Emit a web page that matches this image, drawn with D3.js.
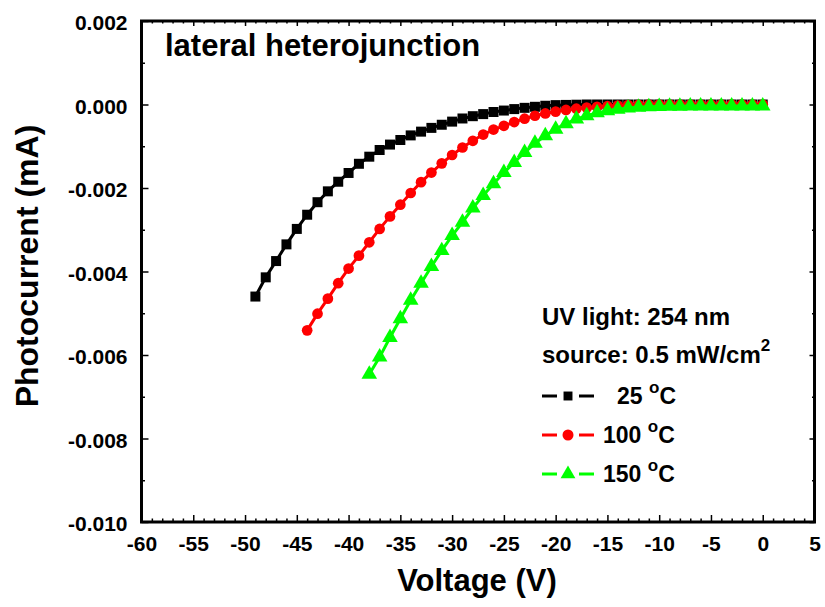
<!DOCTYPE html>
<html>
<head>
<meta charset="utf-8">
<script src="https://cdn.jsdelivr.net/npm/d3@7"></script>
<style>
  body { margin: 0; background: #fff; }
  text { font-family: "Liberation Sans", Arial, sans-serif; font-weight: bold; }
</style>
</head>
<body>
<div id="chart"></div>
<script>
// ** Data (current in mA) **
var volt25 = d3.range(-49, 1);
var cur25 = [-0.00460, -0.00414, -0.00375, -0.00335, -0.00298, -0.00264, -0.00234, -0.00208, -0.00185, -0.00164,
  -0.00142, -0.00125, -0.00109, -0.00096, -0.00085, -0.00074, -0.00065, -0.00056, -0.000485, -0.00041,
  -0.000335, -0.00028, -0.00023, -0.00018, -0.000145, -0.00011, -0.00008, -0.000055, -0.00003, -0.000015,
  -0.00001, -0.000005, 0, 0, 0, 0, 0, 0, 0, 0, 0, 0, 0, 0, 0, 0, 0, 0, 0, 0];

var volt100 = d3.range(-44, 1);
var cur100 = [-0.00541, -0.00501, -0.00465, -0.00428, -0.00393, -0.00362, -0.00330, -0.00298, -0.00268, -0.00240,
  -0.00212, -0.00186, -0.00163, -0.00141, -0.00121, -0.00103, -0.00087, -0.00072, -0.00060, -0.00051,
  -0.00042, -0.00034, -0.00027, -0.000215, -0.00017, -0.00013, -0.00010, -0.000075, -0.000055, -0.00004,
  -0.000025, -0.000015, -0.00001, -0.000005, 0, 0, 0, 0, 0, 0, 0, 0, 0, 0, 0];

var volt150 = d3.range(-38, 1);
var cur150 = [-0.00646, -0.00605, -0.00558, -0.00513, -0.00469, -0.00428, -0.00388, -0.00350, -0.00314, -0.00282,
  -0.00248, -0.00218, -0.00190, -0.00163, -0.00139, -0.00115, -0.00093, -0.00075, -0.00059, -0.00046,
  -0.00035, -0.00027, -0.00020, -0.00015, -0.000115, -0.000085, -0.000065, -0.000055, -0.000048, -0.000043,
  -0.00004, -0.000038, -0.000036, -0.000035, -0.000035, -0.000035, -0.000035, -0.000035, -0.000035];

var xTicks = d3.range(-60, 6, 5);
var yTicks = [0.002, 0, -0.002, -0.004, -0.006, -0.008, -0.010];

var seriesNames = ["25", "100", "150"];
var seriesColors = ["#000000", "#ff0000", "#00ff00"];
var seriesSymbols = [d3.symbolSquare, d3.symbolCircle, d3.symbolTriangle];

// ** Dimensions **
var width = 825, height = 607;
var margin = { left: 141.5, right: 10.5, top: 21, bottom: 85 };
var plotW = width - margin.left - margin.right;
var plotH = height - margin.top - margin.bottom;

var svg = d3.select("#chart").append("svg")
  .attr("width", width)
  .attr("height", height);

var g = svg.append("g")
  .attr("transform", "translate(" + margin.left + "," + margin.top + ")");

// Scales
var x = d3.scaleLinear().domain([-60, 5]).range([0, plotW]);
var y = d3.scaleLinear().domain([-0.010, 0.002]).range([plotH, 0]);

// plain hyphen instead of unicode minus
var fmtY = function(d){ return d3.format(".3f")(d).replace("\u2212", "-"); };
var fmtX = function(d){ return d3.format("d")(d).replace("\u2212", "-"); };

function minorAxis(axisFn, scale, vals, len){
  return axisFn(scale).tickValues(vals).tickSize(-len).tickFormat("");
}

var xMinor = d3.range(-60, 5.1, 1).filter(function(v){ return v % 5 !== 0; });
var yMinor = d3.range(-0.009, 0.0015, 0.002);

// Axes (ticks inside)
var xAxis = g.append("g").attr("transform", "translate(0," + plotH + ")")
  .call(d3.axisBottom(x).tickValues(xTicks).tickSize(-7).tickPadding(16).tickFormat(fmtX));
g.append("g").attr("transform", "translate(0," + plotH + ")")
  .call(minorAxis(d3.axisBottom, x, xMinor, 3.5));
g.append("g").call(minorAxis(d3.axisTop, x, xTicks, 5));
g.append("g").call(minorAxis(d3.axisTop, x, xMinor, 2.5));

var yAxis = g.append("g")
  .call(d3.axisLeft(y).tickValues(yTicks).tickSize(-7).tickPadding(14).tickFormat(fmtY));
g.append("g").call(minorAxis(d3.axisLeft, y, yMinor, 3.5));
g.append("g").attr("transform", "translate(" + plotW + ",0)")
  .call(minorAxis(d3.axisRight, y, yTicks, 5));
g.append("g").attr("transform", "translate(" + plotW + ",0)")
  .call(minorAxis(d3.axisRight, y, yMinor, 2.5));

g.selectAll(".domain").remove();
g.selectAll(".tick line").attr("stroke", "#000").attr("stroke-width", 1.5);
g.selectAll(".tick text").attr("fill", "#000").attr("font-size", 21)
  .attr("font-family", "Liberation Sans, Arial, sans-serif").attr("font-weight", "bold");
xAxis.selectAll(".tick text").attr("dy", "0.62em");
yAxis.selectAll(".tick text").attr("dy", "0.42em");

// Frame
g.append("rect")
  .attr("width", plotW).attr("height", plotH)
  .attr("fill", "none").attr("stroke", "#000").attr("stroke-width", 3);

// Series
var allSeries = [
  { v: volt25, c: cur25 },
  { v: volt100, c: cur100 },
  { v: volt150, c: cur150 }
];
var line = d3.line().x(function(d){ return x(d[0]); }).y(function(d){ return y(d[1]); });
var symSize = [100, 90, 105];

allSeries.forEach(function(s, i){
  var pts = s.v.map(function(v, j){ return [v, s.c[j]]; });
  g.append("path").datum(pts)
    .attr("d", line).attr("fill", "none")
    .attr("stroke", seriesColors[i]).attr("stroke-width", 3);
  g.selectAll(".m" + i).data(pts).enter().append("path")
    .attr("class", "m" + i)
    .attr("transform", function(d){ return "translate(" + x(d[0]) + "," + y(d[1]) + ")"; })
    .attr("d", d3.symbol().type(seriesSymbols[i]).size(symSize[i]))
    .attr("fill", seriesColors[i]);
});

// Title inside plot
svg.append("text").attr("x", 165).attr("y", 56)
  .attr("font-size", 31).text("lateral heterojunction");

// Axis labels
svg.append("text").attr("x", 477).attr("y", 591)
  .attr("text-anchor", "middle").attr("font-size", 31).text("Voltage (V)");
svg.append("text")
  .attr("transform", "translate(38,266) rotate(-90)")
  .attr("text-anchor", "middle").attr("font-size", 32).text("Photocurrent (mA)");

// Legend
var legX = 542;
svg.append("text").attr("x", legX).attr("y", 325).attr("font-size", 24).text("UV light: 254 nm");
var src = svg.append("text").attr("x", legX).attr("y", 363).attr("font-size", 24);
src.append("tspan").text("source: 0.5 mW/cm");
src.append("tspan").attr("dy", -12).attr("font-size", 17).text("2");

var legendRowY = [396, 435, 474];
var legendLabelX = [617, 603, 603];
seriesNames.forEach(function(name, i){
  var row = svg.append("g").attr("transform", "translate(0," + legendRowY[i] + ")");
  [[legX, legX + 15], [legX + 37, legX + 52]].forEach(function(seg){
    row.append("line").attr("x1", seg[0]).attr("x2", seg[1])
      .attr("stroke", seriesColors[i]).attr("stroke-width", 3);
  });
  row.append("path").attr("transform", "translate(" + (legX + 26) + ",0)")
    .attr("d", d3.symbol().type(seriesSymbols[i]).size(i === 0 ? 80 : 95))
    .attr("fill", seriesColors[i]);
  var t = row.append("text").attr("x", legendLabelX[i]).attr("y", 8).attr("font-size", 23);
  t.append("tspan").text(name + " ");
  t.append("tspan").attr("dy", -11).attr("font-size", 17).text("o");
  t.append("tspan").attr("dy", 11).text("C");
});
</script>
</body>
</html>
